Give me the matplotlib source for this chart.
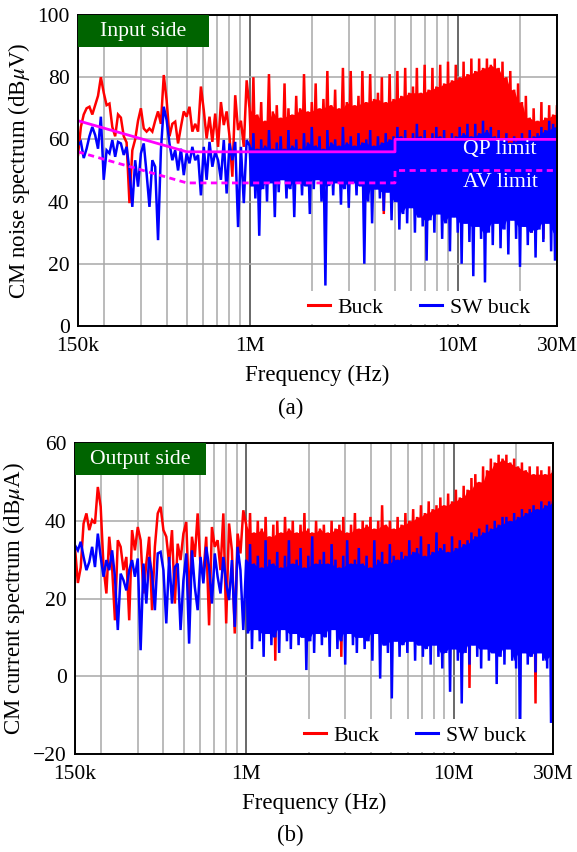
import numpy as np
import pandas as pd
import matplotlib
matplotlib.use('Agg')
import matplotlib.pyplot as plt
from matplotlib.lines import Line2D
from matplotlib.patches import Rectangle

plt.rcParams['font.family'] = ['Liberation Serif', 'DejaVu Serif']
plt.rcParams['mathtext.fontset'] = 'stix'

# ── frequency sampling (Hz) ──────────────────────────────────────────────────
F_LOW = np.geomspace(150e3, 1e6, 61)[:-1]      # 150 kHz .. 1 MHz, 60 samples
F_PK = np.geomspace(1e6, 30e6, 80)              # 1 .. 30 MHz, peak samples
F_TR = F_PK * (30.0 ** (1 / 79)) ** 0.5         # trough samples in between

# ── (a) input side, dBuV ─────────────────────────────────────────────────────
a_buck_low = [55, 64, 68, 70, 70.5, 68, 71, 74, 80, 75,
              71, 71.5, 64, 61, 68, 67, 61, 59, 39.5, 56.5,
              60, 66, 70, 63.5, 62.5, 63.5, 62.5, 66, 69, 65,
              80.7, 72.6, 61, 65, 65.7, 58.7, 64, 69, 67.3, 70.5,
              62.5, 65, 62.5, 77, 69.4, 60.3, 67.3, 59.2, 68.3, 57.6,
              72, 64.6, 69, 61, 48, 74.2, 63, 66, 57.6, 79]
a_sw_low = [58.2, 59.2, 54, 57, 61, 64, 61.4, 57, 67.3, 47,
            56.5, 55.5, 59.8, 54.4, 59.2, 58.7, 55, 57.6, 50, 38.3,
            53.3, 44.8, 55.5, 58.7, 49, 38.3, 53.3, 51.2, 27.6, 56.5,
            70.5, 66.2, 58.7, 53.3, 56.5, 50, 57, 48.5, 55.5, 52.3,
            57.6, 53.3, 55, 42, 57.6, 47, 59.2, 51.2, 56, 53.3,
            47, 59.8, 42.6, 58.7, 53.3, 59.2, 31.8, 57.6, 39.5, 59.8]
a_buck_pk = [70, 80, 68, 72, 66, 81, 69, 71, 67, 78, 70, 68, 74, 70, 81, 69, 72,
             78, 70, 73, 82, 71, 76, 70, 83, 72, 82, 71, 74, 82, 72, 81, 73, 75, 80, 72, 81,
             73, 82, 74, 83, 75, 77, 83, 75, 84, 76, 83, 77, 84,
             78, 85, 79, 84, 80, 85, 81, 86, 82, 86,
             83, 86, 84, 86, 83, 85,
             80, 82, 76, 78, 72, 74,
             67, 70, 66, 72, 67, 71, 68, 71]
a_buck_tr = [54, 50, 55, 48, 56, 52, 50, 55, 53, 49,
             56, 52, 54, 50, 55, 51, 53, 49, 55, 52,
             50, 54, 51, 56, 49, 53, 51, 55, 48, 52,
             54, 50, 53, 45, 36, 50, 47, 52, 44, 50,
             46, 42, 48, 44, 50, 43, 47, 41, 46, 44,
             40, 45, 42, 47, 38, 44, 33, 46, 40, 44,
             38, 45, 41, 47, 39, 44, 42, 46, 40, 45,
             35, 43, 30, 46, 42, 28, 44, 40, 46, 42]
a_sw_pk = [58, 62, 57, 60, 58, 63, 57, 59, 61, 57,
           63, 58, 60, 57, 62, 59, 64, 58, 61, 57,
           63, 59, 60, 58, 64, 59, 61, 58, 62, 59,
           60, 63, 58, 61, 59, 62, 60, 61,
           64, 61, 63, 60, 62, 65, 61, 63, 60, 62, 64, 61,
           63, 60, 62, 61, 64, 62, 65, 61, 65, 62,
           66, 63, 64, 61, 63, 60, 62, 59, 61, 60,
           62, 60, 63, 61, 62, 64, 63, 66, 65, 64]
a_sw_tr = [45, 41, 29, 44, 40, 46, 35, 43, 47, 41,
           44, 35, 46, 42, 45, 36, 44, 47, 40, 13,
           45, 42, 46, 39, 44, 38, 46, 42, 45, 20,
           40, 33, 44, 41, 37, 43, 34, 40,
           31, 36, 33, 38, 30, 35, 32, 21, 34, 30, 36, 28,
           33, 24, 35, 30, 20, 33, 27, 16, 32, 28,
           14, 30, 26, 33, 25, 31, 23, 34, 28, 19,
           32, 26, 30, 22, 31, 27, 33, 24, 21, 30]

# CISPR limits
lim_f = [150e3, 500e3, 5e6, 5e6, 30e6]
qp_lim = [66, 56, 56, 60, 60]
av_lim = [56, 46, 46, 50, 50]

# ── (b) output side, dBuA ────────────────────────────────────────────────────
b_buck_low = [33, 24, 28, 39.3, 41.9, 37.6, 40.2, 39.3, 48.7, 43.6,
              28.1, 21.3, 35.9, 28.1, 14.4, 35, 33.3, 27.3, 30.7, 14.4,
              37.6, 32.4, 38.4, 35, 21.3, 29, 35.9, 17, 33.3, 41.9,
              43.6, 37.6, 35.9, 29, 37.6, 18.7, 34.1, 29.9, 36.7, 39.7,
              18.7, 35.9, 30.7, 41.9, 28.1, 26.4, 35.9, 13.1, 38.4, 33.3,
              35, 27.3, 41.9, 13.6, 39.3, 32.4, 11, 36.7, 31.6, 42.7]
b_sw_low = [33.7, 32.4, 34.6, 30.7, 27.3, 29.4, 33.3, 28.1, 36.7, 30.7,
            25.6, 29.9, 27.3, 32.4, 25.6, 11.9, 26.4, 24.7, 22.1, 27.3,
            29.9, 25.6, 30.3, 6.7, 29, 18.7, 30.7, 26.4, 17, 31.6,
            32, 27.3, 13.6, 30.7, 18.7, 28.1, 29, 11.9, 24.7, 31.6,
            8.4, 32.4, 23, 17, 30.7, 23.9, 33.3, 28.1, 18.7, 31.6,
            25.6, 21.3, 30.7, 23.9, 19.6, 29.9, 12.7, 33.3, 27.3, 11.9]
b_buck_pk = [39, 42, 37, 40, 38, 41, 36, 39, 40, 37, 41,
             38, 40, 37, 39, 42, 38, 37, 40, 38, 39,
             37, 40, 38, 39, 41, 37, 39, 42, 38, 40,
             39, 41, 38, 40, 44, 39, 40, 38, 41, 39,
             42, 40, 43, 41, 44, 42, 45, 43, 44, 46,
             44, 47, 45, 48, 46, 49, 48, 51,
             52, 50, 54, 53, 56, 55, 57, 56,
             57, 55, 56, 54, 55, 53,
             54, 52, 54, 53, 52, 54, 53]
b_buck_tr = [24, 21, 26, 22, 19, 25, 23, 4, 24, 20,
             26, 22, 18, 25, 23, 20, 26, 21, 24, 19,
             25, 22, 18, 24, 5, 23, 20, 25, 21, 17,
             24, 22, 19, 25, 20, 23, 18, 24, 21, 16,
             23, 20, 25, 18, 22, 19, 24, 15, 21, 20,
             18, 23, 19, 22, 17, 21, 16, -3, 20, 18,
             22, 17, 21, 19, 23, 18, 20, 16, 22, 19,
             17, 21, 18, 20, -7, 16, 19, 17, 21, 18]
b_sw_pk = [30, 34, 29, 31, 28, 35, 30, 29, 32, 28,
           31, 35, 29, 30, 33, 28, 31, 36, 29, 30,
           32, 29, 34, 30, 28, 31, 35, 29, 30, 33,
           29, 31, 28, 35, 30, 32, 29, 34, 31, 30, 32,
           31, 35, 32, 33, 36, 31, 34, 32, 37, 33, 34, 32, 36, 33, 35, 34,
           35, 37, 36, 38, 37, 39, 38, 40, 39, 41,
           41, 40, 42, 41, 43, 42, 43, 44, 43, 45, 44, 45, 45]
b_sw_tr = [11, 7, 12, 9, 5, 11, 8, 10, 6, 12,
           9, 7, 11, 8, 10, 1.6, 9, 6, 11, 8,
           10, 5, 12, 7, 9, 3, 11, 8, 6, 10,
           7, 9, 4, 11, -0.6, 8, 6, -5.7, 9, 5, 8,
           6, 9, 4, 8, 5, 7, 3, 8, 5, 2,
           6, -4, 7, 4, -7, 6, 3, 8, 5, 2,
           7, 4, 6, -2, 5, 3, 7, 4, 2, -19,
           6, 3, 5, 1, 6, 4, 2, -12, 5]

RED, BLUE, MAG, GREEN = '#ff0000', '#0000ff', '#ff00ff', '#006400'
LW = 1.8
FS_TICK, FS_LABEL, FS_TEXT = 15.5, 16.5, 15.7


def draw_trace(ax, low, pk, tr, color, z):
    """Line through the low-band samples, then peak/trough zigzag above 1 MHz."""
    pk, tr = np.asarray(pk, float), np.asarray(tr, float)
    x = np.concatenate([F_LOW, np.column_stack([F_PK, F_TR]).ravel()])
    y = np.concatenate([low, np.column_stack([pk, tr]).ravel()])
    ax.plot(x, y, color=color, lw=LW, zorder=z, solid_joinstyle='miter')
    # solid core of the dense part: the band every neighbouring sample covers
    top = pd.Series(pk).rolling(3, center=True, min_periods=1).min().to_numpy()
    bot = pd.Series(tr).rolling(3, center=True, min_periods=1).max().to_numpy()
    ax.fill_between(F_PK, bot, np.maximum(top, bot), color=color, lw=0, zorder=z)


def style_axes(ax, ylim, yticks, ylabel, tag):
    ax.set_xscale('log')
    ax.set_xlim(150e3, 30e6)
    ax.set_ylim(*ylim)
    ax.set_yticks(yticks)
    ax.set_xticks([150e3, 1e6, 10e6, 30e6], ['150k', '1M', '10M', '30M'])
    minor = [k * 1e5 for k in range(2, 10)] + [k * 1e6 for k in range(2, 10)] + [2e7]
    ax.set_xticks(minor, minor=True)
    ax.xaxis.set_minor_formatter(plt.NullFormatter())
    ax.set_axisbelow(True)
    ax.grid(axis='x', which='major', color='#404040', lw=1.1)
    ax.grid(axis='x', which='minor', color='#a8a8a8', lw=1.1)
    ax.grid(axis='y', which='major', color='#a8a8a8', lw=1.1)
    ax.tick_params(which='both', length=0, labelsize=FS_TICK)
    ax.tick_params(axis='x', pad=8)
    ax.tick_params(axis='y', pad=6)
    for s in ax.spines.values():
        s.set_linewidth(1.4)
        s.set_zorder(10)
    ax.set_xlabel('Frequency (Hz)', fontsize=FS_LABEL, labelpad=6)
    ax.set_ylabel(ylabel, fontsize=FS_LABEL, labelpad=4)
    # green tag in the upper-left corner
    ax.add_patch(Rectangle((0, 1 - 0.103), 0.2735, 0.103, transform=ax.transAxes,
                           fc=GREEN, ec='none', zorder=12))
    ax.text(0.2735 / 2, 1 - 0.103 / 2, tag, transform=ax.transAxes, ha='center',
            va='center', fontsize=FS_TEXT, color='white', zorder=13)
    handles = [Line2D([], [], color=RED, lw=2.2), Line2D([], [], color=BLUE, lw=2.2)]
    leg = ax.legend(handles, ['Buck', 'SW buck'], ncol=2, loc='lower right',
                    bbox_to_anchor=(0.98, -0.03), fontsize=FS_TEXT, frameon=True,
                    framealpha=1, facecolor='white', edgecolor='none',
                    handlelength=1.0, handletextpad=0.35, columnspacing=1.7,
                    borderpad=0.3, fancybox=False)
    leg.set_zorder(11)


fig = plt.figure(figsize=(5.77, 8.52), dpi=100, facecolor='white')

ax_a = fig.add_axes([0.1352, 0.6174, 0.8301, 0.3650])
draw_trace(ax_a, a_buck_low, a_buck_pk, a_buck_tr, RED, 3)
draw_trace(ax_a, a_sw_low, a_sw_pk, a_sw_tr, BLUE, 4)
ax_a.plot(lim_f, qp_lim, color=MAG, lw=2.0, zorder=6)
ax_a.plot(lim_f, av_lim, color=MAG, lw=2.0, ls=(0, (2.2, 1.6)), zorder=6)
ax_a.text(16e6, 56.6, 'QP limit', color='white', fontsize=FS_TEXT, ha='center', va='center', zorder=7)
ax_a.text(16e6, 46.2, 'AV limit', color='white', fontsize=FS_TEXT, ha='center', va='center', zorder=7)
style_axes(ax_a, (0, 100), [0, 20, 40, 60, 80, 100],
           r'CM noise spectrum (dB$\mu$V)', 'Input side')

ax_b = fig.add_axes([0.1300, 0.1150, 0.8284, 0.3650])
draw_trace(ax_b, b_buck_low, b_buck_pk, b_buck_tr, RED, 3)
draw_trace(ax_b, b_sw_low, b_sw_pk, b_sw_tr, BLUE, 4)
style_axes(ax_b, (-20, 60), [-20, 0, 20, 40, 60],
           r'CM current spectrum (dB$\mu$A)', 'Output side')

fig.text(0.503, 0.521, '(a)', fontsize=FS_LABEL, ha='center', va='center')
fig.text(0.503, 0.020, '(b)', fontsize=FS_LABEL, ha='center', va='center')

fig.savefig('out.png', dpi=100, facecolor='white')
